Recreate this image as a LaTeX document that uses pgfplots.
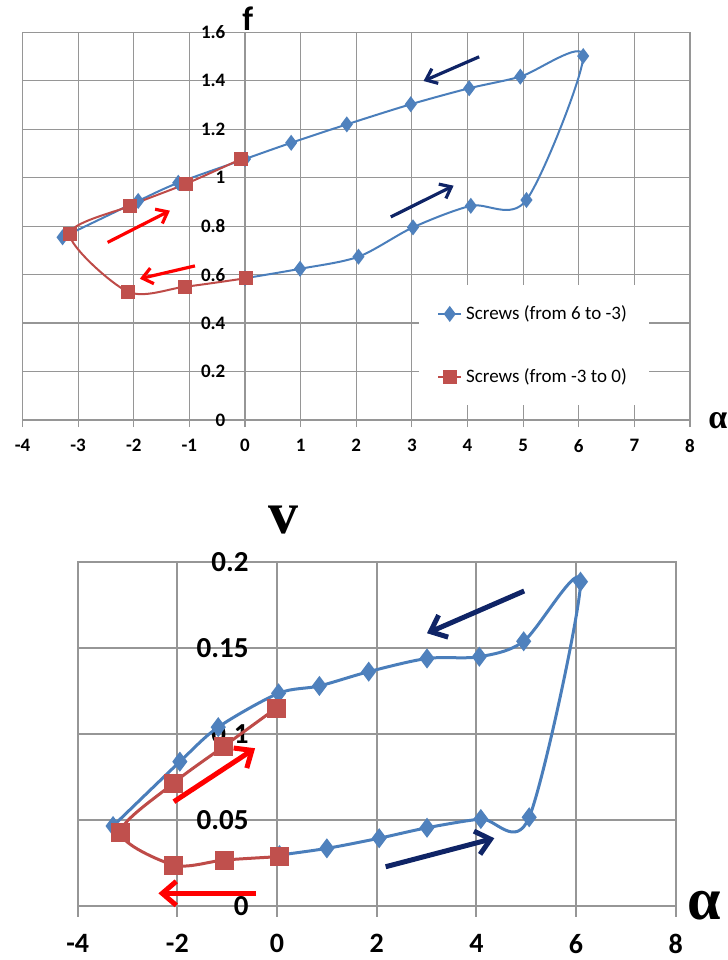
\documentclass[border=0pt]{standalone}
\usepackage{pgfplots}
\pgfplotsset{compat=1.18}
\usepackage{fontspec}
\setmainfont{Carlito}
\newfontfamily\serifb{Liberation Serif}
\usetikzlibrary{arrows.meta}
\definecolor{exblue}{HTML}{4A7EBB}
\definecolor{exbluem}{HTML}{4F81BD}
\definecolor{exred}{HTML}{BE4B48}
\definecolor{exredm}{HTML}{C0504D}
\definecolor{navy}{HTML}{0F2466}
\definecolor{gridc}{HTML}{969696}
\begin{document}
\begin{tikzpicture}
\useasboundingbox (0,0) rectangle (364pt,-480pt);
% ---------------- top chart ----------------
\begin{axis}[
  at={(11.25pt,-210pt)}, anchor=south west,
  scale only axis, width=333.75pt, height=193.85pt,
  axis line style={draw=gridc, line width=0.6pt},
  xmin=-4, xmax=8, ymin=0, ymax=1.6, enlargelimits=false,
  xtick={-4,-3,-2,-1,0,1,2,3,4,5,6,7,8},
  xticklabels={-4,-3,-2,-1,0,1,2,3,4,5,6,7,8},
  ytick={0,0.2,0.4,0.6,0.8,1,1.2,1.4,1.6},
  yticklabels={0,0.2,0.4,0.6,0.8,1,1.2,1.4,1.6},
  xtick pos=bottom, ytick pos=left,
  grid=major, grid style={gridc, line width=0.6pt},
  xtick align=outside, ytick align=inside, major tick length=3.5pt,
  tick style={gridc, line width=0.6pt},
  ticklabel style={font=\bfseries\fontsize{9.5}{10}\selectfont},
  yticklabel style={xshift=104.95pt},
  xticklabel style={yshift=-2.5pt},
  clip=false,
  legend style={at={(rel axis cs:0.594,0.348)}, anchor=north west,
    draw=none, fill=white, inner xsep=9pt, inner ysep=8pt, row sep=19pt,
    font=\fontsize{9.5}{10}\selectfont},
  legend cell align=left,
  legend image code/.code={\draw[mark repeat=2,mark phase=2] plot coordinates {(0cm,0cm) (0.2cm,0cm) (0.4cm,0cm)};},
]
\addplot[exblue, line width=1pt, smooth, mark=diamond*, mark size=3.2pt,
  mark options={fill=exbluem, draw=exbluem}] coordinates {
(0,0.585) (0.99,0.624) (2.04,0.674) (3.02,0.795) (4.06,0.884) (5.06,0.908)
(6.08,1.502) (4.95,1.417) (4.03,1.369) (2.98,1.303) (1.83,1.22) (0.83,1.144)
(0,1.077) (-1.2,0.979) (-1.92,0.904) (-3.28,0.754)};
\addlegendentry{Screws (from 6 to -3)}
\addplot[exred, line width=1pt, smooth, mark=square*, mark size=3pt,
  mark options={fill=exredm, draw=exredm}] coordinates {
(0.01,0.585) (-1.08,0.55) (-2.11,0.53) (-3.15,0.766) (-2.07,0.884) (-1.06,0.975) (-0.07,1.077)};
\addlegendentry{Screws (from -3 to 0)}
\draw[red, line width=1.6pt, -{Straight Barb[length=5pt,width=8pt]}] (axis cs:-2.47,0.733) -- (axis cs:-1.35,0.864);
\draw[red, line width=1.6pt, -{Straight Barb[length=5pt,width=8pt]}] (axis cs:-0.9,0.636) -- (axis cs:-1.89,0.583);
\draw[navy, line width=1.6pt, -{Straight Barb[length=5pt,width=8pt]}] (axis cs:4.21,1.499) -- (axis cs:3.21,1.399);
\draw[navy, line width=1.6pt, -{Straight Barb[length=5pt,width=8pt]}] (axis cs:2.62,0.838) -- (axis cs:3.75,0.967);
\node[anchor=base, inner sep=0pt, font=\bfseries\fontsize{17}{17}\selectfont] at (axis cs:0.05,1.6) [yshift=1pt] {f};
\node[anchor=base west, inner sep=0pt, font=\serifb\bfseries\fontsize{17}{17}\selectfont] at (axis cs:8,0) [xshift=9pt, yshift=-4pt] {α};
\end{axis}
% ---------------- bottom chart ----------------
\begin{axis}[
  at={(38.85pt,-452.85pt)}, anchor=south west,
  scale only axis, width=299pt, height=171.7pt,
  axis line style={draw=gridc, line width=1pt},
  xmin=-4, xmax=8, ymin=0, ymax=0.2, enlargelimits=false,
  xtick={-4,-2,0,2,4,6,8},
  xticklabels={-4,-2,0,2,4,6,8},
  ytick={0,0.05,0.1,0.15,0.2},
  yticklabels={0,0.05,0.1,0.15,0.2},
  xtick pos=bottom, ytick pos=left,
  grid=major, grid style={gridc, line width=1pt},
  xtick align=outside, ytick align=inside, major tick length=5.5pt,
  tick style={gridc, line width=1pt},
  ticklabel style={font=\bfseries\fontsize{14.5}{15}\selectfont},
  yticklabel style={xshift=88.97pt},
  xticklabel style={inner sep=1pt, yshift=-7.5pt, font=\bfseries\fontsize{14}{14}\selectfont},
  clip=false,
]
\addplot[exblue, line width=1.5pt, smooth, mark=diamond*, mark size=3.8pt,
  mark options={fill=exbluem, draw=exbluem}] coordinates {
(0.05,0.0295) (1.0,0.0334) (2.05,0.0393) (3.01,0.0454) (4.09,0.0505) (5.06,0.0515)
(6.09,0.1887) (4.95,0.154) (4.06,0.145) (3.01,0.144) (1.84,0.1363) (0.85,0.128)
(0.03,0.1237) (-1.18,0.104) (-1.95,0.0839) (-3.29,0.0464)};
\addplot[exred, line width=1.5pt, smooth, mark=square*, mark size=4pt,
  mark options={fill=exredm, draw=exredm}] coordinates {
(0.05,0.0286) (-1.06,0.0266) (-2.07,0.0237) (-3.14,0.0427) (-2.08,0.0713) (-1.08,0.0926) (-0.02,0.115)};
\draw[red, line width=2.5pt, -{Straight Barb[length=7pt,width=12pt]}] (axis cs:-2.07,0.0606) -- (axis cs:-0.44,0.0917);
\draw[red, line width=2.5pt, -{Straight Barb[length=7pt,width=12pt]}] (axis cs:-0.42,0.0072) -- (axis cs:-2.38,0.0072);
\draw[navy, line width=2.5pt, -{Straight Barb[length=7pt,width=12pt]}] (axis cs:4.96,0.1833) -- (axis cs:3.01,0.1587);
\draw[navy, line width=2.5pt, -{Straight Barb[length=7pt,width=12pt]}] (axis cs:2.18,0.0227) -- (axis cs:4.36,0.0393);
\node[anchor=base, inner sep=0pt, font=\serifb\bfseries\fontsize{30}{30}\selectfont] at (axis cs:0,0.2) [xshift=3pt, yshift=14.5pt] {v};
\node[anchor=base west, inner sep=0pt, font=\serifb\bfseries\fontsize{30}{30}\selectfont] at (axis cs:8,0) [xshift=5.5pt, yshift=-7pt] {α};
\end{axis}
\end{tikzpicture}
\end{document}
